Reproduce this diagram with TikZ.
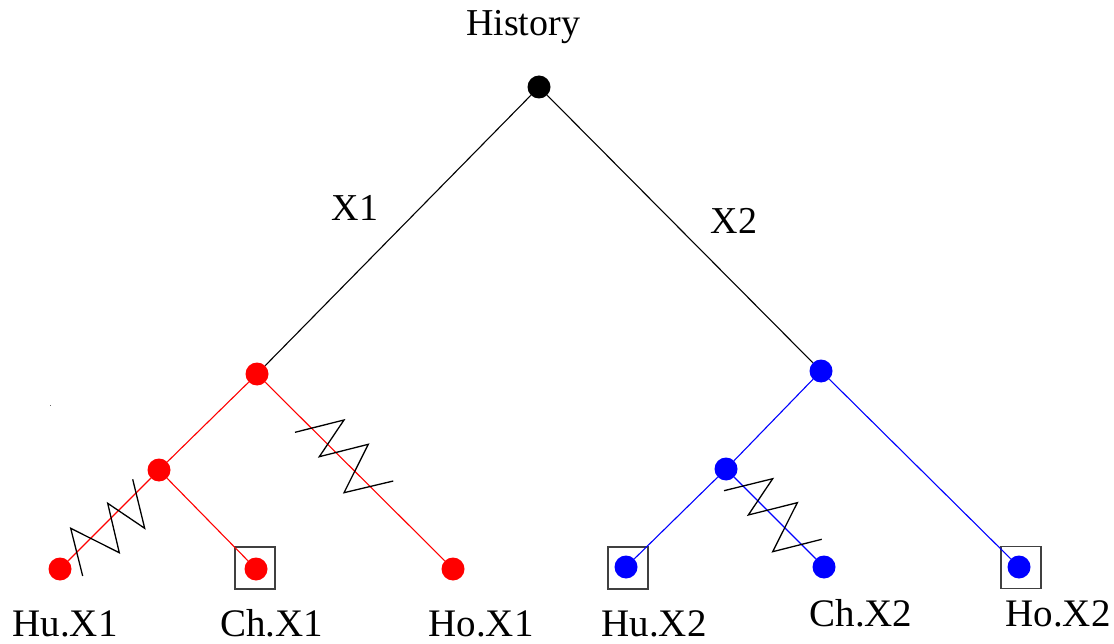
\documentclass[tikz,border=0pt]{standalone}
\usepackage{fontspec}
\setmainfont{Liberation Serif}
\begin{document}
\begin{tikzpicture}[x=1pt,y=-1pt,
  dot/.style={circle,inner sep=0pt,minimum size=23pt},
  lbl/.style={font=\fontsize{38}{40}\selectfont,inner sep=0pt,anchor=base},
  leaflbl/.style={lbl,font=\fontsize{39}{41}\selectfont},
  boxed/.style={draw=black!75,line width=1.3pt,minimum width=40pt,minimum height=42pt,inner sep=0pt},
  zig/.style={black,line width=1.3pt},
  edge/.style={line width=1.1pt}]
\useasboundingbox (0,0) rectangle (1114,644);
% nodes
\node[dot,fill=black] (root) at (539,87) {};
\node[dot,fill=red] (rm) at (257,374) {};
\node[dot,fill=blue] (bm) at (821,371) {};
\node[dot,fill=red] (rs) at (159,470) {};
\node[dot,fill=blue] (bs) at (726,469) {};
\node[dot,fill=red] (hu1) at (60,569) {};
\node[dot,fill=red] (ch1) at (256,569) {};
\node[dot,fill=red] (ho1) at (453,569) {};
\node[dot,fill=blue] (hu2) at (626,567) {};
\node[dot,fill=blue] (ch2) at (824,567) {};
\node[dot,fill=blue] (ho2) at (1019,567) {};
% boxes
\node[boxed] (bch1) at (255,568) {};
\node[boxed] (bhu2) at (628,568) {};
\node[boxed] (bho2) at (1021,567.5) {};
% edges
\draw[edge,black] (root) -- (rm);
\draw[edge,black] (root) -- (bm);
\draw[edge,red] (rm) -- (rs);
\draw[edge,red] (rm) -- (ho1);
\draw[edge,red] (rs) -- (hu1);
\draw[edge,red] (rs) -- (ch1);
\draw[edge,blue] (bm) -- (bs);
\draw[edge,blue] (bm) -- (ho2);
\draw[edge,blue] (bs) -- (hu2);
\draw[edge,blue] (bs) -- (ch2);
% zigzags
\draw[zig] (82.7,576) -- (70.7,528.3) -- (119.3,552.7) -- (107.7,503.3) -- (144.7,528.3) -- (132.7,479.3);
\draw[zig] (295,432.3) -- (344,420) -- (319.3,456.7) -- (368.3,444.3) -- (344,492.7) -- (393.3,481);
\draw[zig] (724,490.7) -- (772.7,478.7) -- (748.3,515) -- (797.3,502.7) -- (772.7,551.7) -- (821.7,539.3);
\fill[black!60] (49.5,404.5) rectangle (50.5,405.5);
% labels
\node[lbl] (thist) at (523,36) {History};
\node[lbl] (tx1) at (355,221) {X1};
\node[lbl] (tx2) at (734,233.3) {X2};
\node[leaflbl] (thu1) at (65,636) {Hu.X1};
\node[leaflbl] (tch1) at (271.6,636) {Ch.X1};
\node[leaflbl] (tho1) at (481,636) {Ho.X1};
\node[leaflbl] (thu2) at (654,636.5) {Hu.X2};
\node[leaflbl] (tch2) at (861,626) {Ch.X2};
\node[leaflbl] (tho2) at (1058,626) {Ho.X2};
\end{tikzpicture}
\end{document}
